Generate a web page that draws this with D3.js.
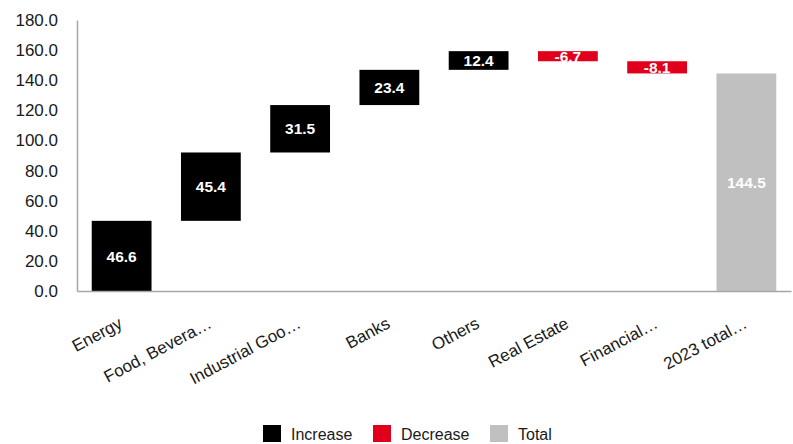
<!DOCTYPE html>
<html>
<head>
<meta charset="utf-8">
<script src="https://cdn.jsdelivr.net/npm/d3@7"></script>
<style>
  body { margin: 0; background: white; }
  text { font-family: Arial, "Liberation Sans", sans-serif; }
</style>
</head>
<body>
<svg id="mainSvg" width="793" height="444"></svg>
<script>
// chart data
var categories = ["Energy", "Food, Bevera\u2026", "Industrial Goo\u2026", "Banks", "Others", "Real Estate", "Financial\u2026", "2023 total\u2026"];
var changes = [46.6, 45.4, 31.5, 23.4, 12.4, -6.7, -8.1];
var totalValue = 144.5;
var yTicks = [0, 20, 40, 60, 80, 100, 120, 140, 160, 180];
var legendItems = ["Increase", "Decrease", "Total"];

var increaseColor = "#000000";
var decreaseColor = "#e0001b";
var totalColor = "#c0c0c0";
var axisColor = "#a6a6a6";
var textColor = "#1a1a1a";

function drawChart()
{
    const svg = d3.select("#mainSvg");
    const margin = {top: 20, left: 77, right: 2, bottom: 153};
    const width = +svg.attr("width");
    const height = +svg.attr("height");
    const innerWidth = width - margin.left - margin.right;
    const innerHeight = height - margin.top - margin.bottom;

    // build waterfall steps
    let steps = [];
    let running = 0;
    changes.forEach((v, i) => {
        let start = running;
        running += v;
        steps.push({name: categories[i], y0: Math.min(start, running), y1: Math.max(start, running), value: v, kind: v >= 0 ? "Increase" : "Decrease"});
    });
    steps.push({name: categories[categories.length - 1], y0: 0, y1: totalValue, value: totalValue, kind: "Total"});

    const xScale = d3.scaleBand().domain(categories).range([0, innerWidth]).paddingInner(0.33).paddingOuter(0.165);
    const yScale = d3.scaleLinear().domain([0, 180]).range([innerHeight, 0]);
    const colorOf = {Increase: increaseColor, Decrease: decreaseColor, Total: totalColor};

    const g = svg.append("g").attr("transform", `translate(${margin.left}, ${margin.top})`);

    // y axis
    const yAxis = d3.axisLeft(yScale).tickValues(yTicks).tickFormat(d3.format(".1f")).tickSize(0).tickPadding(19);
    const yAxisGroup = g.append("g").call(yAxis);
    yAxisGroup.select(".domain").attr("stroke", axisColor).attr("stroke-width", 1.5);
    yAxisGroup.selectAll("text").attr("font-size", 17).attr("fill", textColor).attr("font-family", "Arial, 'Liberation Sans', sans-serif");

    // bars
    g.selectAll("rect.bar").data(steps).join("rect")
        .attr("class", "bar")
        .attr("x", d => xScale(d.name))
        .attr("width", xScale.bandwidth())
        .attr("y", d => yScale(d.y1))
        .attr("height", d => yScale(d.y0) - yScale(d.y1))
        .attr("fill", d => colorOf[d.kind]);

    // value labels
    g.selectAll("text.val").data(steps).join("text")
        .attr("class", "val")
        .attr("x", d => xScale(d.name) + xScale.bandwidth() / 2)
        .attr("y", d => (yScale(d.y0) + yScale(d.y1)) / 2)
        .attr("dy", "0.36em")
        .attr("text-anchor", "middle")
        .attr("font-size", 15.5)
        .attr("font-weight", "bold")
        .attr("fill", "white")
        .text(d => d.value.toFixed(1));

    // x axis
    const xAxis = d3.axisBottom(xScale).tickSize(0).tickPadding(0);
    const xAxisGroup = g.append("g").attr("transform", `translate(0, ${innerHeight})`).call(xAxis);
    xAxisGroup.select(".domain").attr("stroke", axisColor).attr("stroke-width", 1.5);
    xAxisGroup.selectAll("text")
        .attr("font-size", 17)
        .attr("fill", textColor)
        .attr("font-family", "Arial, 'Liberation Sans', sans-serif")
        .attr("text-anchor", "end")
        .attr("dy", null)
        .attr("y", 0)
        .attr("transform", "translate(2, 36) rotate(-28)");

    // legend
    const legendX = [263, 373, 490];
    const legend = svg.append("g").selectAll("g").data(legendItems).join("g")
        .attr("transform", (d, i) => `translate(${legendX[i]}, 425)`);
    legend.append("rect").attr("width", 18).attr("height", 17).attr("fill", d => colorOf[d]);
    legend.append("text").attr("x", 28).attr("y", 9).attr("dy", "0.36em")
        .attr("font-size", 16).attr("fill", textColor).text(d => d);
}

drawChart();
</script>
</body>
</html>
